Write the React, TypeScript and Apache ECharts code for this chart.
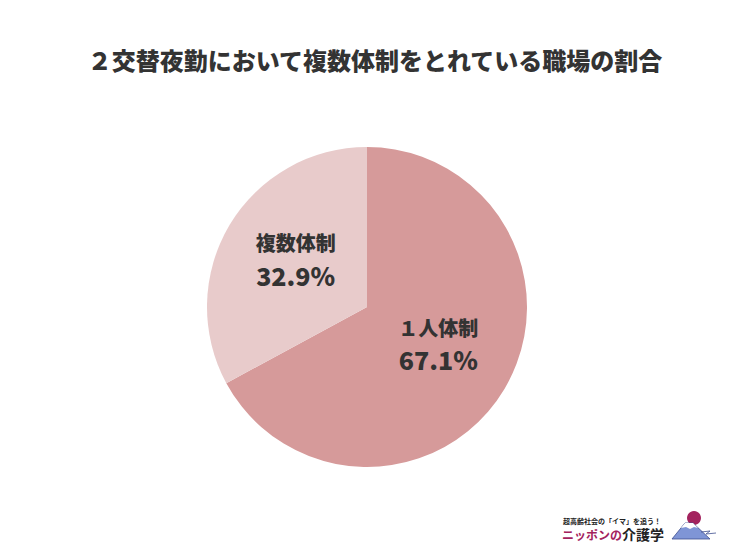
import React, { useEffect, useRef } from "react";
import * as echarts from "echarts";

const titleText = "２交替夜勤において複数体制をとれている職場の割合";
const categories = ["１人体制", "複数体制"];
const values = [67.1, 32.9];
const colors = ["#d69a9a", "#e8cbcb"];

export default function App() {
  const ref = useRef<HTMLDivElement>(null);
  useEffect(() => {
    const chart = echarts.init(ref.current!, null, { renderer: "svg" });
    const font = "'Noto Sans CJK JP', 'Noto Sans', sans-serif";
    chart.setOption({
      animation: false,
      backgroundColor: "#ffffff",
      title: {
        text: titleText,
        left: "center",
        top: 34,
        textStyle: { fontFamily: font, fontSize: 24, fontWeight: 900, color: "#333333" },
      },
      series: [
        {
          type: "pie",
          center: [359, 299],
          radius: [0, 160],
          startAngle: 90,
          clockwise: true,
          data: categories.map((c, i) => ({ name: c, value: values[i], itemStyle: { color: colors[i] } })),
          label: {
            show: true,
            position: "inside",
            offset: [0, -6],
            formatter: (p: any) => `{n|${p.name}}\n{v|${p.value.toFixed(1)}%}`,
            rich: {
              n: { fontFamily: font, fontSize: 20, fontWeight: 900, color: "#333333", lineHeight: 32 },
              v: { fontFamily: font, fontSize: 25, fontWeight: 900, color: "#333333", lineHeight: 32 },
            },
          },
          labelLine: { show: false },
          emphasis: { disabled: true },
        },
      ],
      graphic: [
        {
          type: "text",
          left: 555,
          top: 509,
          style: { text: "超高齢社会の「イマ」を追う！", fontFamily: font, fontSize: 7, fontWeight: "bold", fill: "#222" },
        },
        {
          type: "text",
          left: 554,
          top: 519,
          style: {
            text: "{a|ニッポンの}{b|介護学}",
            fontFamily: font,
            rich: {
              a: { fontFamily: font, fontSize: 12, fontWeight: "bold", fill: "#a3235e" },
              b: { fontFamily: font, fontSize: 14, fontWeight: "bold", fill: "#222" },
            },
          },
        },
        { type: "circle", shape: { cx: 686, cy: 510, r: 7 }, style: { fill: "#a3235e" } },
        {
          type: "polygon",
          shape: { points: [[664, 531], [677, 515], [685, 515], [702, 531]] },
          style: { fill: "#7f95d6", stroke: "#3f4f8f", lineWidth: 0.8 },
        },
        {
          type: "polygon",
          shape: { points: [[673, 520], [677, 515], [685, 515], [690, 520], [686, 519], [682, 521], [678, 519]] },
          style: { fill: "#ffffff" },
        },
        {
          type: "polyline",
          shape: { points: [[693, 524], [702, 523], [698, 526], [708, 525]] },
          style: { stroke: "#3f4f8f", lineWidth: 0.8, fill: "none" },
        },
      ],
    });
    return () => chart.dispose();
  }, []);
  return <div ref={ref} style={{ width: 734, height: 554 }} />;
}
